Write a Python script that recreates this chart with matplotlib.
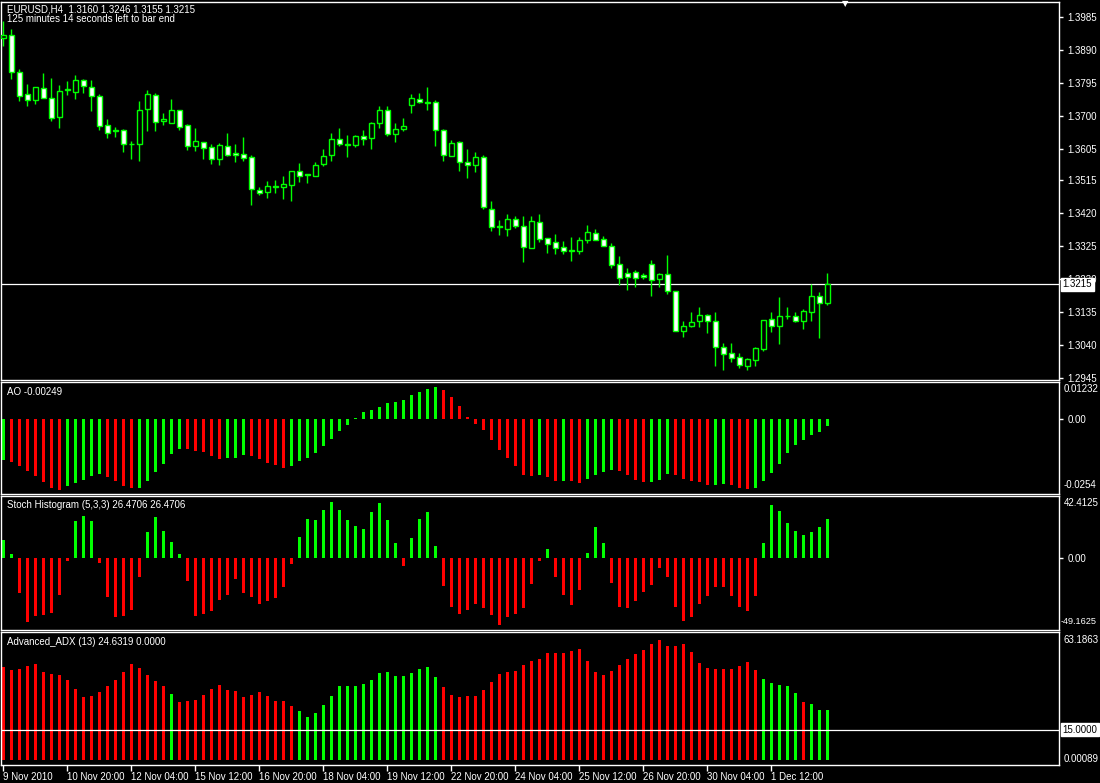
import numpy as np
import matplotlib
matplotlib.use('Agg')
import matplotlib.pyplot as plt
from matplotlib.transforms import blended_transform_factory

plt.rcParams['font.family'] = ['Liberation Sans', 'DejaVu Sans']
plt.rcParams['font.size'] = 7

# EURUSD H4 candles, 9 Nov 2010 12:00 .. 2 Dec 2010
opens = [1.3924, 1.3933, 1.3826, 1.3762, 1.3745, 1.3780, 1.3751, 1.3696, 1.3775, 1.3770,
         1.3803, 1.3782, 1.3757, 1.3673, 1.3658, 1.3659, 1.3620, 1.3620, 1.3719, 1.3759,
         1.3684, 1.3678, 1.3716, 1.3673, 1.3612, 1.3624, 1.3611, 1.3577, 1.3613, 1.3593,
         1.3590, 1.3582, 1.3486, 1.3481, 1.3496, 1.3496, 1.3502, 1.3541, 1.3532, 1.3528,
         1.3560, 1.3586, 1.3634, 1.3617, 1.3617, 1.3642, 1.3635, 1.3678, 1.3717, 1.3649,
         1.3661, 1.3730, 1.3749, 1.3740, 1.3740, 1.3660, 1.3585, 1.3625, 1.3567, 1.3557,
         1.3582, 1.3432, 1.3382, 1.3375, 1.3403, 1.3383, 1.3318, 1.3395, 1.3349, 1.3337,
         1.3323, 1.3313, 1.3312, 1.3341, 1.3363, 1.3346, 1.3326, 1.3274, 1.3247, 1.3250,
         1.3241, 1.3273, 1.3229, 1.3244, 1.3195, 1.3079, 1.3096, 1.3108, 1.3127, 1.3109,
         1.3034, 1.3017, 1.3005, 1.2978, 1.2998, 1.3029, 1.3114, 1.3096, 1.3122, 1.3123,
         1.3108, 1.3136, 1.3182, 1.3160]
highs = [1.3972, 1.3950, 1.3835, 1.3792, 1.3782, 1.3824, 1.3809, 1.3789, 1.3801, 1.3818,
         1.3807, 1.3804, 1.3763, 1.3691, 1.3668, 1.3662, 1.3628, 1.3743, 1.3775, 1.3766,
         1.3709, 1.3749, 1.3716, 1.3677, 1.3665, 1.3624, 1.3619, 1.3622, 1.3651, 1.3619,
         1.3639, 1.3588, 1.3494, 1.3513, 1.3516, 1.3527, 1.3542, 1.3565, 1.3533, 1.3568,
         1.3605, 1.3651, 1.3665, 1.3645, 1.3645, 1.3660, 1.3683, 1.3729, 1.3729, 1.3680,
         1.3694, 1.3763, 1.3766, 1.3783, 1.3746, 1.3662, 1.3631, 1.3628, 1.3605, 1.3596,
         1.3588, 1.3455, 1.3400, 1.3418, 1.3412, 1.3412, 1.3412, 1.3418, 1.3349, 1.3360,
         1.3340, 1.3351, 1.3351, 1.3386, 1.3375, 1.3354, 1.3334, 1.3297, 1.3263, 1.3256,
         1.3248, 1.3285, 1.3247, 1.3300, 1.3195, 1.3109, 1.3135, 1.3150, 1.3130, 1.3135,
         1.3046, 1.3046, 1.3016, 1.3003, 1.3035, 1.3111, 1.3135, 1.3179, 1.3150, 1.3135,
         1.3144, 1.3216, 1.3193, 1.3246]
lows = [1.3902, 1.3806, 1.3744, 1.3729, 1.3735, 1.3751, 1.3684, 1.3666, 1.3760, 1.3749,
        1.3767, 1.3714, 1.3660, 1.3635, 1.3640, 1.3596, 1.3576, 1.3571, 1.3655, 1.3655,
        1.3674, 1.3678, 1.3660, 1.3602, 1.3600, 1.3577, 1.3560, 1.3559, 1.3583, 1.3567,
        1.3570, 1.3444, 1.3472, 1.3464, 1.3478, 1.3461, 1.3455, 1.3510, 1.3507, 1.3528,
        1.3556, 1.3570, 1.3614, 1.3582, 1.3611, 1.3616, 1.3605, 1.3665, 1.3642, 1.3625,
        1.3657, 1.3709, 1.3738, 1.3717, 1.3614, 1.3571, 1.3583, 1.3541, 1.3522, 1.3539,
        1.3432, 1.3367, 1.3358, 1.3355, 1.3378, 1.3280, 1.3318, 1.3338, 1.3306, 1.3303,
        1.3303, 1.3283, 1.3301, 1.3335, 1.3341, 1.3324, 1.3263, 1.3214, 1.3197, 1.3208,
        1.3229, 1.3180, 1.3208, 1.3188, 1.3079, 1.3062, 1.3093, 1.3093, 1.3073, 1.2978,
        1.2967, 1.2992, 1.2975, 1.2969, 1.2978, 1.3023, 1.3076, 1.3044, 1.3116, 1.3105,
        1.3085, 1.3110, 1.3059, 1.3155]
closes = [1.3933, 1.3826, 1.3758, 1.3745, 1.3782, 1.3751, 1.3693, 1.3771, 1.3777, 1.3803,
          1.3785, 1.3757, 1.3672, 1.3652, 1.3656, 1.3618, 1.3618, 1.3716, 1.3762, 1.3681,
          1.3691, 1.3716, 1.3669, 1.3612, 1.3628, 1.3606, 1.3576, 1.3615, 1.3586, 1.3586,
          1.3580, 1.3488, 1.3479, 1.3498, 1.3498, 1.3504, 1.3542, 1.3528, 1.3530, 1.3559,
          1.3585, 1.3634, 1.3620, 1.3619, 1.3642, 1.3632, 1.3680, 1.3717, 1.3649, 1.3662,
          1.3671, 1.3752, 1.3739, 1.3738, 1.3658, 1.3586, 1.3622, 1.3566, 1.3557, 1.3582,
          1.3436, 1.3381, 1.3380, 1.3403, 1.3384, 1.3321, 1.3398, 1.3344, 1.3332, 1.3318,
          1.3312, 1.3311, 1.3343, 1.3366, 1.3341, 1.3324, 1.3269, 1.3234, 1.3237, 1.3234,
          1.3235, 1.3227, 1.3244, 1.3194, 1.3079, 1.3094, 1.3106, 1.3127, 1.3110, 1.3033,
          1.3013, 1.3001, 1.2982, 1.3000, 1.3032, 1.3111, 1.3094, 1.3124, 1.3124, 1.3108,
          1.3138, 1.3182, 1.3160, 1.3215]

# Awesome Oscillator
ao = [-0.01402, -0.01459, -0.01596, -0.01778, -0.01949, -0.02143, -0.02348, -0.02394, -0.02257, -0.02155,
      -0.02052, -0.01949, -0.01881, -0.01984, -0.02086, -0.02257, -0.02348, -0.02326, -0.02086, -0.01813,
      -0.01539, -0.01197, -0.01026, -0.01037, -0.01094, -0.01129, -0.01265, -0.01368, -0.01334, -0.01334,
      -0.01231, -0.01265, -0.01368, -0.01505, -0.01573, -0.01676, -0.01607, -0.01436, -0.01334, -0.01163,
      -0.00923, -0.00684, -0.00410, -0.00205, 0.00034, 0.00205, 0.00274, 0.00376, 0.00513, 0.00547,
      0.00616, 0.00787, 0.00889, 0.00992, 0.01060, 0.00958, 0.00718, 0.00410, 0.00068, -0.00171,
      -0.00376, -0.00718, -0.01060, -0.01334, -0.01607, -0.01915, -0.01949, -0.01915, -0.01984, -0.02086,
      -0.02086, -0.02086, -0.02155, -0.02018, -0.01915, -0.01813, -0.01744, -0.01778, -0.01915, -0.02052,
      -0.02120, -0.02120, -0.02052, -0.01881, -0.01915, -0.02018, -0.02086, -0.02120, -0.02223, -0.02223,
      -0.02189, -0.02223, -0.02326, -0.02360, -0.02326, -0.02086, -0.01847, -0.01539, -0.01163, -0.00889,
      -0.00718, -0.00547, -0.00445, -0.00249]
ao_col = ('g' + 'r' * 7 + 'g' * 5 + 'r' * 4 + 'g' * 6 + 'r' * 5 + 'g' * 3 + 'r' * 5 + 'g' * 19 +
          'r' * 12 + 'g' + 'rr' + 'g' + 'rr' + 'gggg' + 'rrrr' + 'ggg' + 'rrrrr' + 'gg' + 'rrr' + 'g' * 10)

# Stoch histogram (5,3,3)
stoch = [12.5, 2.8, -23.6, -43.7, -39.6, -38.9, -37.5, -25.0, -2.1, 25.0,
         28.5, 25.0, -3.5, -26.4, -40.2, -39.6, -35.4, -13.2, 18.0, 27.8,
         18.7, 11.1, 2.8, -16.0, -39.6, -38.2, -36.1, -28.5, -25.0, -14.6,
         -23.6, -26.4, -31.2, -29.1, -27.1, -20.1, -4.2, 14.6, 26.4, 25.7,
         32.6, 38.2, 32.6, 25.7, 22.2, 20.1, 31.2, 37.5, 25.7, 10.4,
         -5.6, 13.9, 26.4, 31.2, 8.3, -19.4, -33.3, -38.2, -35.4, -31.2,
         -34.0, -38.9, -45.8, -40.2, -38.2, -34.0, -18.0, -2.1, 6.2, -13.2,
         -25.0, -31.9, -21.5, 3.5, 21.5, 10.4, -17.3, -33.3, -34.0, -29.1,
         -22.9, -18.7, -6.9, -13.2, -33.3, -43.0, -40.2, -31.2, -25.7, -20.1,
         -20.1, -25.7, -33.3, -36.1, -25.7, 10.4, 36.1, 31.9, 24.3, 18.7,
         16.0, 18.0, 21.5, 26.4706]

# Advanced ADX (13)
adx = [45.9, 44.4, 44.9, 46.4, 47.4, 43.4, 42.4, 42.0, 39.5, 35.0,
       31.1, 31.6, 33.6, 36.5, 39.5, 43.4, 47.4, 45.4, 42.0, 39.0,
       36.5, 32.6, 28.6, 29.1, 29.6, 32.1, 35.0, 37.0, 34.6, 34.1,
       31.1, 32.1, 33.6, 31.6, 29.1, 29.1, 26.7, 24.2, 21.2, 23.2,
       27.1, 31.6, 36.5, 36.5, 36.5, 37.5, 39.5, 42.9, 43.4, 41.5,
       41.5, 42.9, 44.9, 45.9, 41.0, 36.0, 32.1, 31.1, 31.6, 31.6,
       34.6, 38.5, 42.4, 43.4, 43.9, 46.9, 48.9, 49.9, 52.8, 52.8,
       52.8, 53.8, 54.8, 48.9, 43.4, 42.0, 43.9, 46.9, 49.9, 52.3,
       54.3, 57.3, 59.2, 56.3, 56.3, 57.3, 53.3, 47.9, 45.4, 44.9,
       44.9, 44.9, 46.4, 48.4, 44.4, 40.0, 38.0, 37.0, 36.5, 33.1,
       28.6, 27.6, 24.7, 24.6319]
adx_col = 'r' * 21 + 'g' + 'r' * 15 + 'g' * 18 + 'r' * 40 + 'g' * 5 + 'r' + 'g' * 3
adx_level = 15.0

price_ticks = [1.3985, 1.3890, 1.3795, 1.3700, 1.3605, 1.3515, 1.3420, 1.3325, 1.3230, 1.3135, 1.3040, 1.2945]
date_labels = ['9 Nov 2010', '10 Nov 20:00', '12 Nov 04:00', '15 Nov 12:00', '16 Nov 20:00', '18 Nov 04:00',
               '19 Nov 12:00', '22 Nov 20:00', '24 Nov 04:00', '25 Nov 12:00', '26 Nov 20:00',
               '30 Nov 04:00', '1 Dec 12:00']
bid = 1.3215

W, H = 1100, 783
GREEN = '#00ff00'
RED = '#ff0000'
cmap = {'g': GREEN, 'r': RED}


def box(x0, x1, y0, y1):
    return [x0 / W, 1 - y1 / H, (x1 - x0) / W, (y1 - y0) / H]


fig = plt.figure(figsize=(W / 100, H / 100), dpi=100, facecolor='black')
ax_p = fig.add_axes(box(1, 1059, 2, 380))
ax_ao = fig.add_axes(box(1, 1059, 382, 494), sharex=ax_p)
ax_st = fig.add_axes(box(1, 1059, 496, 630), sharex=ax_p)
ax_adx = fig.add_axes(box(1, 1059, 632, 765), sharex=ax_p)

for ax in (ax_p, ax_ao, ax_st, ax_adx):
    ax.set_facecolor('black')
    for s in ax.spines.values():
        s.set_color('white')
        s.set_linewidth(1)
    ax.yaxis.tick_right()
    ax.tick_params(axis='y', colors='white', length=3, width=1, pad=3, labelsize=7)
    ax.tick_params(axis='x', bottom=False, labelbottom=False)

x = np.arange(len(opens))
ax_p.set_xlim(-0.29, 131.96)

# candles
o, h, l, c = map(np.array, (opens, highs, lows, closes))
bear = c < o
ax_p.vlines(x, l, h, color=GREEN, lw=1, zorder=2)
ax_p.bar(x, np.abs(c - o), 0.55, bottom=np.minimum(o, c),
         color=np.where(bear, 'white', 'black'), edgecolor=GREEN, lw=1, zorder=3)
ax_p.axhline(bid, color='white', lw=0.9, zorder=1)
ax_p.set_ylim(1.2939, 1.4028)
ax_p.set_yticks(price_ticks)
ax_p.set_yticklabels(['%.4f' % v for v in price_ticks])
tr = blended_transform_factory(ax_p.transAxes, ax_p.transData)
ax_p.text(1.0035, bid, '1.3215', transform=tr, ha='left', va='center', color='black', fontsize=7,
          bbox=dict(boxstyle='square,pad=0.15', fc='white', ec='white'), zorder=10, clip_on=False)

# AO
ax_ao.bar(x, ao, 0.38, color=[cmap[k] for k in ao_col], lw=0)
ax_ao.set_ylim(-0.0254, 0.01232)
ax_ao.set_yticks([0])
ax_ao.set_yticklabels(['0.00'])

# Stoch histogram
ax_st.bar(x, stoch, 0.38, color=[GREEN if v > 0 else RED for v in stoch], lw=0)
ax_st.set_ylim(-49.1625, 42.4125)
ax_st.set_yticks([0])
ax_st.set_yticklabels(['0.00'])

# ADX
ax_adx.bar(x, adx, 0.38, color=[cmap[k] for k in adx_col], lw=0)
ax_adx.axhline(adx_level, color='white', lw=0.9)
ax_adx.set_ylim(-2.47, 63.1863)
ax_adx.set_yticks([])
tr = blended_transform_factory(ax_adx.transAxes, ax_adx.transData)
ax_adx.text(1.0035, adx_level, '%.4f' % adx_level, transform=tr, ha='left', va='center', color='black',
            fontsize=7, bbox=dict(boxstyle='square,pad=0.15', fc='white', ec='white'), clip_on=False)

ax_adx.set_xticks(np.arange(len(date_labels)) * 8)
ax_adx.set_xticklabels(date_labels, ha='left')
ax_adx.tick_params(axis='x', bottom=True, labelbottom=True, colors='white', length=4, width=1,
                   pad=1, labelsize=7)

# captions
def ftext(px, py, s, size=7, **kw):
    fig.text(px / W, 1 - py / H, s, color='white', va='center', fontsize=size, **kw)

ftext(7, 9, 'EURUSD,H4  1.3160 1.3246 1.3155 1.3215')
ftext(7, 19, '125 minutes 14 seconds left to bar end')
ftext(7, 392, 'AO -0.00249')
ftext(7, 505, 'Stoch Histogram (5,3,3) 26.4706 26.4706')
ftext(7, 642, 'Advanced_ADX (13) 24.6319 0.0000')
ftext(1064, 389, '0.01232')
ftext(1064, 485, '-0.0254')
ftext(1064, 503, '42.4125')
ftext(1061, 621, '-49.1625', size=6.6)
ftext(1064, 640, '63.1863')
ftext(1064, 759, '0.00089')
fig.text(845 / W, 1 - 4 / H, '\u25bc', color='white', fontsize=6, ha='center', va='center',
         family='DejaVu Sans')

fig.savefig('out.png', dpi=100, facecolor='black')
